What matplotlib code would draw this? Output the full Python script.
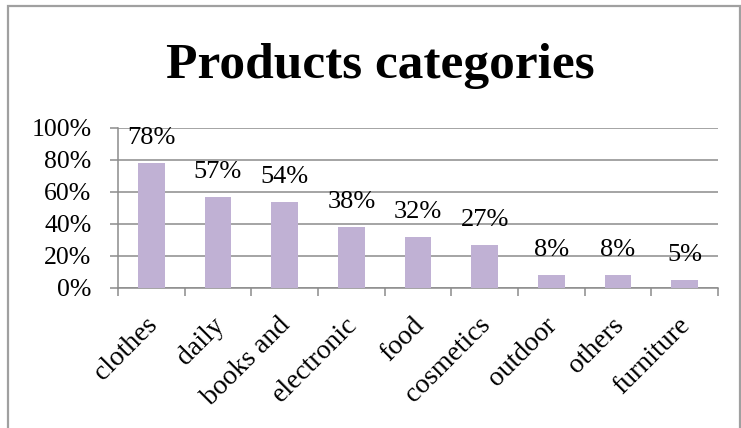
import matplotlib.pyplot as plt
import matplotlib.transforms as mtransforms
from matplotlib.patches import Rectangle
from matplotlib.ticker import PercentFormatter

# data
categories = ['clothes', 'daily', 'books and', 'electronic', 'food',
              'cosmetics', 'outdoor', 'others', 'furniture']
percent = [78, 57, 54, 38, 32, 27, 8, 8, 5]

plt.rcParams['font.family'] = ['Liberation Serif', 'DejaVu Serif']

fig = plt.figure(figsize=(7.41, 4.28), dpi=100)
ax = fig.add_axes([118 / 741, 1 - 288 / 428, 600 / 741, 160 / 428])

# outer chart border
fig.patches.append(Rectangle((8 / 741, -0.05), 732 / 741, 1.05 - 6 / 428,
                             transform=fig.transFigure, fill=False,
                             edgecolor='#a0a0a0', linewidth=1.6))

x = list(range(len(categories)))
vals = [p / 100 for p in percent]
ax.bar(x, vals, width=0.4, color='#c0b1d4', zorder=3)

for i, v in enumerate(vals):
    ax.annotate(f'{percent[i]}%', (i, v), xytext=(0, 13.5), textcoords='offset points',
                ha='center', va='baseline', fontsize=19, zorder=4)

ax.set_xlim(-0.5, len(categories) - 0.5)
ax.set_ylim(0, 1)
ax.set_yticks([0, 0.2, 0.4, 0.6, 0.8, 1.0])
ax.yaxis.set_major_formatter(PercentFormatter(1, decimals=0))
ax.grid(axis='y', color='#8c8c8c', linewidth=1.1, zorder=0)

for s in ['top', 'right']:
    ax.spines[s].set_visible(False)
for s in ['left', 'bottom']:
    ax.spines[s].set_color('#8c8c8c')
    ax.spines[s].set_linewidth(1.1)

ax.tick_params(axis='y', length=6, width=1.1, color='#8c8c8c', pad=13, labelsize=18.5)
ax.set_xticks(x)
ax.set_xticks([i - 0.5 for i in range(len(categories) + 1)], minor=True)
ax.tick_params(axis='x', which='minor', length=6, width=1.1, color='#8c8c8c')
ax.tick_params(axis='x', which='major', length=0, pad=24)
ax.set_xticklabels(categories, rotation=45, ha='right', va='center',
                   rotation_mode='anchor', fontsize=20)
shift = mtransforms.ScaledTranslation(1.5 / 72, 0, fig.dpi_scale_trans)
for lab in ax.get_xticklabels():
    lab.set_transform(lab.get_transform() + shift)

fig.text(380 / 741, 1 - 78 / 428, 'Products categories', ha='center', va='baseline',
         fontsize=37, fontweight='bold')

fig.savefig('out.png', dpi=100)
